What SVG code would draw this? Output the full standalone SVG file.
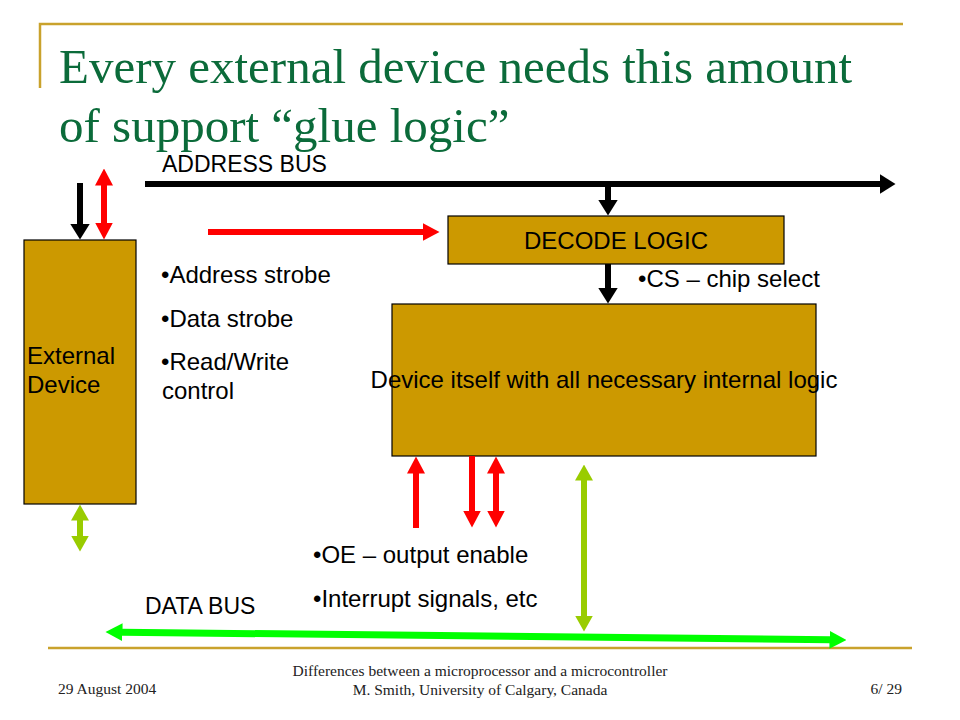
<svg xmlns="http://www.w3.org/2000/svg" width="960" height="720" viewBox="0 0 960 720">
<style>
.box{fill:#CC9900;stroke:#000;stroke-width:1.2}
.lbl{font-family:"Liberation Sans",Arial,sans-serif;font-size:24px;fill:#000}
.bus{font-family:"Liberation Sans",Arial,sans-serif;font-size:23px;fill:#000}
.title{font-family:"Liberation Serif","Times New Roman",serif;font-size:49px;fill:#0B6B3A}
.foot{font-family:"Liberation Serif","Times New Roman",serif;font-size:15.5px;fill:#222}
.rule{stroke:#C9A22C;stroke-width:2.5;fill:none}
.blk{stroke:#000;stroke-width:6;fill:none}
.red{stroke:#FF0000;stroke-width:6;fill:none}
.yg{stroke:#99CC00;stroke-width:6;fill:none}
.grn{stroke:#00FF00;stroke-width:7;fill:none}
</style>
<defs>
<marker id="hBlk" markerUnits="userSpaceOnUse" viewBox="0 0 16 20" markerWidth="16" markerHeight="20" refX="0.5" refY="10" orient="auto-start-reverse"><path d="M0,0 L16,10 L0,20 z" fill="#000"/></marker>
<marker id="hRed" markerUnits="userSpaceOnUse" viewBox="0 0 17 18" markerWidth="17" markerHeight="18" refX="0.5" refY="9" orient="auto-start-reverse"><path d="M0,0 L17,9 L0,18 z" fill="#FF0000"/></marker>
<marker id="hYg" markerUnits="userSpaceOnUse" viewBox="0 0 16 18" markerWidth="16" markerHeight="18" refX="0.5" refY="9" orient="auto-start-reverse"><path d="M0,0 L16,9 L0,18 z" fill="#99CC00"/></marker>
<marker id="hGrn" markerUnits="userSpaceOnUse" viewBox="0 0 17 18" markerWidth="17" markerHeight="18" refX="0.5" refY="9" orient="auto-start-reverse"><path d="M0,0 L17,9 L0,18 z" fill="#00FF00"/></marker>
</defs>

<g id="frame">
<path class="rule" d="M40,88 V24 H903"/>
<path class="rule" d="M48,648 H912"/>
</g>

<g id="title">
<text class="title" x="59" y="83">Every external device needs this amount</text>
<text class="title" x="59" y="142">of support “glue logic”</text>
</g>

<g id="external-device">
<rect class="box" x="24" y="240" width="112" height="264"/>
<text class="lbl" x="27" y="364">External</text>
<text class="lbl" x="27" y="393">Device</text>
</g>

<g id="decode-logic">
<rect class="box" x="448" y="216" width="336" height="48"/>
<text class="lbl" x="616" y="249" text-anchor="middle" font-size="23">DECODE LOGIC</text>
</g>

<g id="device">
<rect class="box" x="392" y="304" width="424" height="152"/>
<text class="lbl" x="604" y="388" text-anchor="middle">Device itself with all necessary internal logic</text>
</g>

<g id="connectors">
<line class="blk" x1="145" y1="184" x2="880" y2="184" marker-end="url(#hBlk)"/>
<line class="blk" x1="608" y1="181" x2="608" y2="200" marker-end="url(#hBlk)"/>
<line class="blk" x1="608" y1="264" x2="608" y2="288" marker-end="url(#hBlk)"/>
<line class="blk" x1="80" y1="183" x2="80" y2="224" marker-end="url(#hBlk)"/>
<line class="red" x1="104" y1="185" x2="104" y2="223" marker-start="url(#hRed)" marker-end="url(#hRed)"/>
<line class="red" x1="208" y1="232" x2="423" y2="232" marker-end="url(#hRed)"/>
<line class="red" x1="416" y1="528" x2="416" y2="473" marker-end="url(#hRed)"/>
<line class="red" x1="472" y1="456" x2="472" y2="511" marker-end="url(#hRed)"/>
<line class="red" x1="496" y1="473" x2="496" y2="511" marker-start="url(#hRed)" marker-end="url(#hRed)"/>
<line class="yg" x1="584" y1="480" x2="584" y2="616" marker-start="url(#hYg)" marker-end="url(#hYg)"/>
<line class="yg" x1="80" y1="520" x2="80" y2="536" marker-start="url(#hYg)" marker-end="url(#hYg)"/>
<line class="grn" x1="122" y1="632.2" x2="830" y2="639.8" marker-start="url(#hGrn)" marker-end="url(#hGrn)"/>
</g>

<g id="labels">
<text class="bus" x="162" y="172">ADDRESS BUS</text>
<text class="lbl" x="161" y="283">•Address strobe</text>
<text class="lbl" x="161" y="327">•Data strobe</text>
<text class="lbl" x="161" y="370">•Read/Write</text>
<text class="lbl" x="162" y="399">control</text>
<text class="lbl" x="638" y="287">•CS – chip select</text>
<text class="lbl" x="313" y="563">•OE – output enable</text>
<text class="lbl" x="313" y="607">•Interrupt signals, etc</text>
<text class="bus" x="145" y="614">DATA BUS</text>
</g>

<g id="footer">
<text class="foot" x="58" y="694">29 August 2004</text>
<text class="foot" x="480" y="676" text-anchor="middle">Differences between a microprocessor and a microcontroller</text>
<text class="foot" x="480" y="695" text-anchor="middle">M. Smith, University of Calgary, Canada</text>
<text class="foot" x="902" y="694" text-anchor="end">6/ 29</text>
</g>
</svg>
